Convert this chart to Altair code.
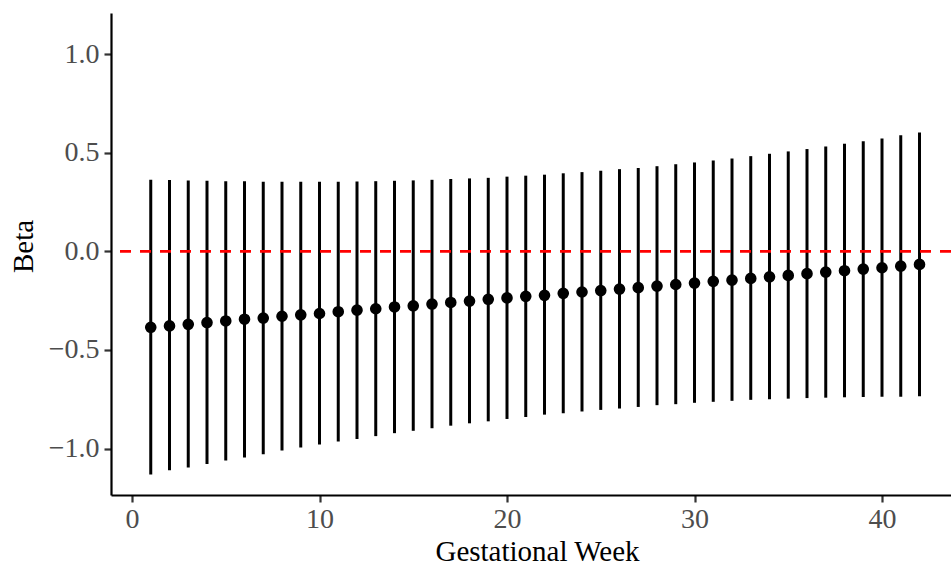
import altair as alt
import pandas as pd

weeks = list(range(1, 43))
beta = [-0.385, -0.378, -0.370, -0.361, -0.353, -0.344, -0.338, -0.329, -0.322, -0.315,
        -0.306, -0.298, -0.291, -0.282, -0.276, -0.267, -0.259, -0.252, -0.243, -0.236,
        -0.228, -0.223, -0.213, -0.206, -0.199, -0.191, -0.184, -0.176, -0.168, -0.161,
        -0.152, -0.146, -0.137, -0.129, -0.122, -0.113, -0.105, -0.098, -0.090, -0.083,
        -0.075, -0.066]
upper = [0.363, 0.362, 0.360, 0.358, 0.356, 0.356, 0.353, 0.353, 0.353, 0.353,
         0.353, 0.355, 0.356, 0.358, 0.360, 0.363, 0.367, 0.370, 0.373, 0.379,
         0.384, 0.389, 0.396, 0.402, 0.409, 0.417, 0.423, 0.432, 0.442, 0.451,
         0.461, 0.471, 0.483, 0.495, 0.507, 0.519, 0.532, 0.546, 0.558, 0.572,
         0.589, 0.603]
lower = [-1.132, -1.110, -1.096, -1.079, -1.060, -1.046, -1.029, -1.010, -0.995, -0.980,
         -0.964, -0.951, -0.937, -0.922, -0.910, -0.897, -0.884, -0.872, -0.862, -0.850,
         -0.840, -0.828, -0.821, -0.812, -0.804, -0.797, -0.789, -0.780, -0.775, -0.768,
         -0.763, -0.758, -0.753, -0.750, -0.747, -0.744, -0.742, -0.740, -0.739, -0.737,
         -0.737, -0.735]
x_ticks = [0, 10, 20, 30, 40]
y_ticks = [-1.0, -0.5, 0.0, 0.5, 1.0]

df = pd.DataFrame({"week": weeks, "beta": beta, "upper": upper, "lower": lower})

FONT = "Liberation Serif"

xscale = alt.Scale(domain=[-1.12, 43.68], nice=False, zero=False)
yscale = alt.Scale(domain=[-1.2356, 1.209], nice=False, zero=False)

axis_common = dict(
    grid=False,
    domainColor="black",
    domainWidth=2.2,
    tickColor="#333333",
    tickWidth=2.2,
    tickSize=7,
    labelFont=FONT,
    labelFontSize=28,
    labelColor="#4D4D4D",
    titleFont=FONT,
    titleFontSize=29,
    titleFontWeight="normal",
    titleColor="black",
)

xaxis = alt.Axis(values=x_ticks, title="Gestational Week", labelPadding=3,
                 titleX=426, titleY=65, titleBaseline="alphabetic", titleAlign="center",
                 **axis_common)
yaxis = alt.Axis(values=y_ticks, title="Beta", format=".1f", labelPadding=5,
                 titleAngle=270, titleX=-79, titleY=233, titleBaseline="alphabetic",
                 titleAlign="center", **axis_common)

base = alt.Chart(df)

bars = base.mark_rule(color="black", strokeWidth=3).encode(
    x=alt.X("week:Q", scale=xscale, axis=xaxis),
    y=alt.Y("lower:Q", scale=yscale, axis=yaxis),
    y2="upper:Q",
)

points = base.mark_point(filled=True, color="black", opacity=1, size=135).encode(
    x=alt.X("week:Q", scale=xscale),
    y=alt.Y("beta:Q", scale=yscale),
)

zero = alt.Chart(pd.DataFrame({"y": [0.0]})).mark_rule(
    color="#FF0000", strokeWidth=2.8, strokeDash=[11, 9]
).encode(y=alt.Y("y:Q", scale=yscale))

chart = alt.layer(bars, zero, points).properties(
    width=840,
    height=482,
    autosize=alt.AutoSizeParams(type="none"),
    padding={"left": 111, "top": 13, "right": 0, "bottom": 70},
    background="white",
).configure_view(stroke=None)

chart.save("out.html", embed_options={"renderer": "svg", "actions": False})
